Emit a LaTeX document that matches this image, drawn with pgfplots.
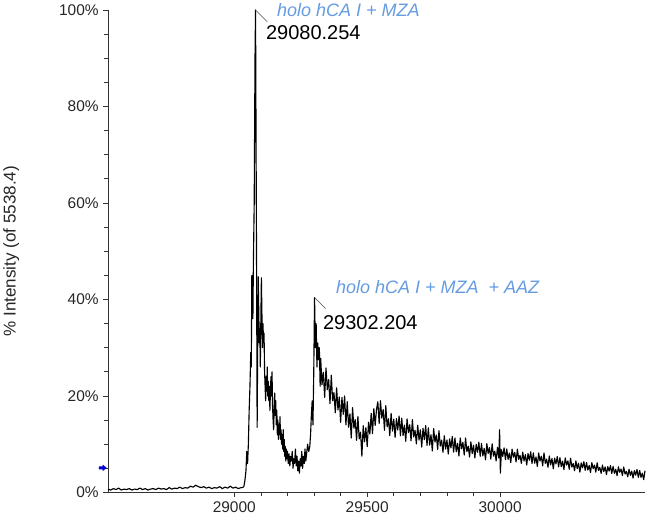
\documentclass[border=0pt]{standalone}
\usepackage{fontspec}
\setmainfont{Liberation Sans}
\usepackage{pgfplots}
\pgfplotsset{compat=1.18}
\definecolor{annblue}{RGB}{100,155,225}

\begin{document}
\begin{tikzpicture}
\begin{axis}[
    at={(81pt,18.4pt)}, anchor=south west,
    scale only axis,
    width=402.75pt, height=361.9pt,
    xmin=28525, xmax=30545,
    ymin=0, ymax=100,
    axis lines*=left,
    axis line style={black!80, line width=0.6pt},
    tick align=outside,
    major tick length=3.5pt, minor tick length=3pt,
    every tick/.style={black!80, line width=0.5pt},
    xtick={29000,29500,30000},
    minor x tick num=4,
    ytick={0,20,40,60,80,100},
    minor y tick num=3,
    scaled x ticks=false,
    /pgf/number format/assume math mode=true,
    /pgf/number format/1000 sep={},
    yticklabel={\pgfmathprintnumber{\tick}\%},
    tick label style={font=\fontsize{11.6}{13}\selectfont, text=black!85},
    ylabel={\% Intensity (of 5538.4)},
    ylabel style={font=\fontsize{12.8}{14}\selectfont, text=black!85},
    ylabel shift=23pt,
    clip=false,
]
\addplot[black, line width=0.85pt, line join=round] table {
x y
28525 0.7
28535 0.5
28545 0.8
28555 0.6
28565 0.9
28575 0.5
28585 0.7
28595 0.6
28605 0.8
28615 0.5
28625 0.7
28635 0.6
28645 0.9
28655 0.6
28665 0.8
28675 0.5
28685 0.7
28695 0.8
28705 0.6
28715 0.9
28725 0.7
28735 0.8
28745 0.6
28755 1.0
28765 0.7
28775 0.9
28785 0.8
28795 1.1
28805 0.8
28815 1.0
28825 0.9
28835 1.3
28845 1.1
28855 1.5
28865 1.2
28875 1.0
28885 1.2
28895 0.9
28905 1.1
28915 0.8
28925 1.0
28935 0.9
28945 1.2
28955 0.8
28965 1.1
28975 0.9
28985 1.3
28995 0.9
29005 1.1
29015 0.8
29025 1.0
29030 1.0
29036 1.2
29040 2.5
29044 4.5
29047 8.5
29050 6.0
29053 10
29056 17
29059 22
29062 29
29064 26
29066 45
29068 38
29070 36
29072 48
29075 60
29078 90
29080 100
29082 72
29084 45
29086 13.5
29088 30
29090 44.7
29092 38
29094 31
29096 34
29098 26
29100 36
29102 44.5
29104 37
29106 30
29108 35
29110 31
29112 33
29114 25
29116 22
29118 19
29120 24
29122 21
29124 26
29126 20
29128 23
29130 19
29132 22
29134 17
29136 21
29138 24
29140 20
29142 25
29144 18
29146 15
29148 13
29150 17
29152 20.6
29154 16
29156 19
29158 14
29160 17
29162 12
29164 15
29166 11
29168 14
29170 12
29172 15.7
29174 11
29176 13
29178 10
29180 12
29182 9
29184 13
29186 8.5
29188 11
29190 7.5
29192 9.5
29194 6.5
29196 9
29198 7
29200 8.5
29203 6
29206 8
29209 5.5
29212 7.5
29215 6.5
29218 8.5
29221 5
29224 7
29227 6
29230 9
29233 5.5
29236 7.5
29239 4.5
29242 6.5
29245 4
29248 7
29251 5.5
29254 8.5
29257 5
29260 7.5
29263 6
29266 9
29269 6.5
29272 8
29276 10
29280 8.5
29284 9.5
29287 12
29290 16
29293 19
29296 14
29299 25
29302 40.4
29305 30
29308 35
29311 26
29314 31
29317 27.5
29320 30
29323 22
29325 27.8
29330 22.3
29335 24.9
29340 19.7
29345 25.8
29350 21.3
29355 23.4
29360 18.4
29365 24.3
29370 19.0
29375 20.7
29380 16.5
29385 21.7
29390 17.1
29395 19.8
29400 14.5
29405 19.7
29410 16.2
29415 20.0
29420 14.0
29425 18.8
29430 13.5
29435 16.3
29440 11.3
29445 17.6
29450 13.3
29455 15.1
29460 10.8
29465 15.75
29470 11.1
29475 12.5
29480 7.5
29485 13.85
29490 10.5
29495 13.45
29500 9.5
29505 14.55
29510 12.1
29515 16.4
29520 12.2
29525 17.4
29530 13.9
29535 17.2
29540 18.8
29545 14.3
29550 19.0
29555 15.4
29560 17.2
29565 12.9
29570 18.0
29575 13.6
29580 15.3
29585 11.8
29590 16.4
29595 12.7
29600 15.2
29605 11.4
29610 15.3
29615 12.95
29620 15.85
29625 11.75
29630 15.4
29635 11.8
29640 13.95
29645 10.6
29650 15.25
29655 12.4
29660 14.05
29665 10.7
29670 15.1
29675 11.5
29680 12.9
29685 10.05
29690 13.95
29695 10.85
29700 13.0
29705 9.4
29710 13.3
29715 10.95
29720 13.85
29725 9.75
29730 13.4
29735 9.8
29740 11.95
29745 8.6
29750 13.25
29755 10.46
29760 11.9
29765 8.94
29770 12.8
29775 9.62
29780 10.84
29785 8.32
29790 11.74
29795 9.0
29800 10.88
29805 7.95
29810 11.1
29815 9.25
29820 11.6
29825 8.35
29830 11.3
29835 8.45
29840 10.2
29845 7.55
29850 11.3
29855 9.05
29860 10.4
29865 7.75
29870 11.3
29875 8.45
29880 9.6
29885 7.35
29890 10.5
29895 8.05
29900 9.8
29905 7.15
29910 9.98
29915 8.31
29920 10.42
29925 7.49
29930 10.14
29935 7.57
29940 9.14
29945 6.75
29950 10.12
29955 8.09
29960 9.3
29965 6.91
29970 10.1
29975 7.53
29980 8.56
29985 6.53
29990 9.36
29995 7.15
29998 13.0
30001 4.0
30005 8.86
30010 7.47
30015 9.23
30020 6.79
30025 9.0
30030 6.86
30035 8.17
30040 6.18
30045 8.99
30050 7.3
30055 8.31
30060 6.32
30065 8.98
30070 6.84
30075 7.7
30080 6.01
30085 8.37
30090 6.53
30095 7.84
30100 5.7
30105 8.06
30110 6.67
30115 8.43
30120 5.99
30125 8.2
30130 6.06
30135 7.37
30140 5.38
30145 8.19
30150 6.5
30155 7.51
30160 5.52
30165 8.18
30170 6.04
30175 6.9
30180 5.21
30185 7.57
30190 5.73
30195 7.04
30200 4.9
30205 7.14
30210 5.92
30215 7.44
30220 5.31
30225 7.22
30230 5.35
30235 6.48
30240 4.74
30245 7.17
30250 5.69
30255 6.55
30260 4.82
30265 7.11
30270 5.25
30275 5.98
30280 4.51
30285 6.54
30290 4.94
30295 6.06
30300 4.2
30305 6.13
30310 5.1
30315 6.39
30320 4.59
30325 6.21
30330 4.63
30335 5.59
30340 4.12
30345 6.18
30350 4.93
30355 5.67
30360 4.2
30365 6.15
30370 4.57
30375 5.2
30380 3.95
30385 5.68
30390 4.32
30395 5.28
30400 3.7
30405 5.36
30410 4.42
30415 5.58
30420 3.94
30425 5.4
30430 3.95
30435 4.81
30440 3.47
30445 5.33
30450 4.19
30455 4.85
30460 3.51
30465 5.27
30470 3.82
30475 4.38
30480 3.24
30485 4.8
30490 3.56
30495 4.42
30500 2.98
30505 4.54
30510 3.59
30515 4.75
30520 3.11
30525 4.57
30530 3.13
30535 3.99
30540 2.65
30545 4.5
};
% peak annotations
\draw[black!70, line width=0.4pt] (axis cs:29080,100) -- ++(8.8pt,-8.8pt);
\node[anchor=west, inner sep=0pt, font=\fontsize{15}{17}\selectfont]
  at ([xshift=7.7pt,yshift=-17.3pt]axis cs:29080,100) {29080.254};
\node[anchor=west, inner sep=0pt, text=annblue, font=\fontsize{13.5}{15}\itshape]
  at ([xshift=16pt,yshift=0pt]axis cs:29080,100) {holo hCA I + MZA};
\draw[black!70, line width=0.4pt] (axis cs:29302,40.4) -- ++(8.3pt,-8.3pt);
\node[anchor=west, inner sep=0pt, font=\fontsize{15}{17}\selectfont]
  at ([xshift=6.2pt,yshift=-18.8pt]axis cs:29302,40.4) {29302.204};
\node[anchor=west, inner sep=0pt, text=annblue, font=\fontsize{13.5}{15}\itshape]
  at ([xshift=16pt,yshift=7.5pt]axis cs:29302,40.4) {holo hCA I + MZA \ + AAZ};
% blue marker on the y axis
\fill[blue!85!black]
  ([xshift=-6.8pt,yshift=-1.2pt]axis cs:28525,5.1) -- ++(2.8pt,0pt) -- ++(0pt,-1.3pt)
  -- ++(3pt,2.5pt) -- ++(-3pt,2.5pt) -- ++(0pt,-1.3pt) -- ++(-2.8pt,0pt) -- cycle;
\end{axis}
\pgfresetboundingbox
\path[use as bounding box] (0,0) rectangle (484.5pt,387.75pt);
\end{tikzpicture}
\end{document}
